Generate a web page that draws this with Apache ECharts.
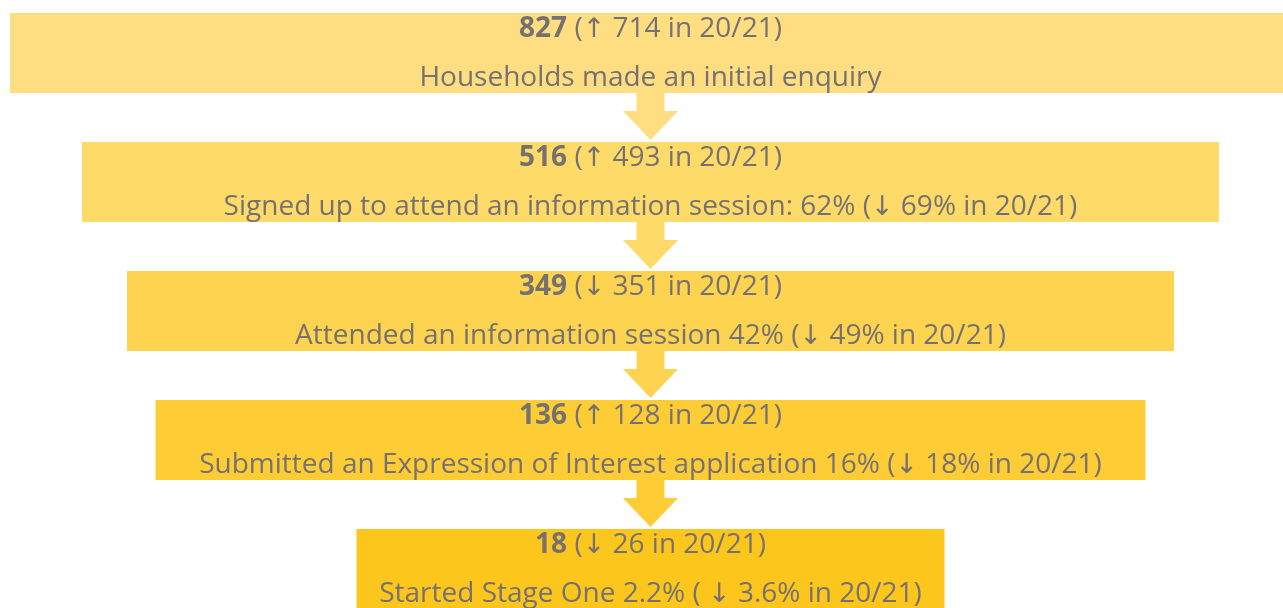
<!DOCTYPE html>
<html>
<head>
<meta charset="utf-8">
<script src="https://cdn.jsdelivr.net/npm/echarts@6/dist/echarts.min.js"></script>
<style>
  html, body { margin: 0; padding: 0; background: #fff; }
  #chart { width: 1283px; height: 608px; }
</style>
</head>
<body>
<div id="chart"></div>
<script>
// funnel stages (20/21 values in brackets)
var stageNames = [
  "Households made an initial enquiry",
  "Signed up to attend an information session:",
  "Attended an information session",
  "Submitted an Expression of Interest application",
  "Started Stage One"
];
var counts = [827, 516, 349, 136, 18];
var prevCounts = [714, 493, 351, 128, 26];
var rates = [null, "62%", "42%", "16%", "2.2%"];
var prevRates = [null, "69%", "49%", "18%", "3.6%"];
var countTrend = ["↑", "↑", "↓", "↑", "↓"];
var rateTrend = [null, "↓", "↓", "↓", "↓"];
var prevYear = "20/21";

// box widths in px (axis units)
var boxWidths = [1281, 1137, 1047, 990, 588];
var colors = ["#FFDE81", "#FEDA69", "#FDD34F", "#FECD35", "#FDC61D"];
var textColor = "#767171";
var fontFamily = "'Open Sans', 'Noto Sans', sans-serif";
var fontSize = 28;

var myChart = echarts.init(document.getElementById("chart"));

var seriesData = [];
for (var i = 0; i < counts.length; i++) {
  seriesData.push([650.5, i, boxWidths[i]]);
}

var rich = {
  b: { fontWeight: "bold", fontSize: fontSize, fontFamily: fontFamily, fill: textColor },
  a: { fontSize: 27, fontFamily: "'DejaVu Sans'", fill: textColor }
};

function line2(i) {
  if (rates[i] == null) return stageNames[i];
  var sep = i === stageNames.length - 1 ? " ( " : " (";
  return stageNames[i] + " " + rates[i] + sep + "{a|" + rateTrend[i] + "} " + prevRates[i] + " in " + prevYear + ")";
}

function renderItem(params, api) {
  var i = api.value(1);
  var c = api.coord([api.value(0), i]);
  var step = api.size([0, 1])[1];
  var w = api.size([api.value(2), 0])[0];
  var h = step * 0.62;
  var top = c[1] - h / 2;
  var children = [];

  if (i > 0) {
    var y0 = c[1] - step + h / 2;
    var tip = top - 2;
    var headTop = tip - 29;
    var sw = 14, hw = 27.5;
    children.push({
      type: "polygon",
      shape: {
        points: [
          [c[0] - sw, y0], [c[0] + sw, y0], [c[0] + sw, headTop],
          [c[0] + hw, headTop], [c[0], tip], [c[0] - hw, headTop],
          [c[0] - sw, headTop]
        ]
      },
      style: { fill: colors[i - 1] }
    });
  }

  children.push({
    type: "rect",
    shape: { x: c[0] - w / 2, y: top, width: w, height: h },
    style: { fill: colors[i] }
  });

  children.push({
    type: "text",
    x: c[0],
    y: top + 16.5,
    style: {
      text: "{b|" + counts[i] + "} ({a|" + countTrend[i] + "} " + prevCounts[i] + " in " + prevYear + ")",
      align: "center",
      verticalAlign: "middle",
      fill: textColor,
      font: fontSize + "px " + fontFamily,
      rich: rich
    }
  });

  children.push({
    type: "text",
    x: c[0],
    y: top + 65.5,
    style: {
      text: line2(i),
      align: "center",
      verticalAlign: "middle",
      fill: textColor,
      font: fontSize + "px " + fontFamily,
      rich: rich
    }
  });

  return { type: "group", children: children };
}

var option = {
  animation: false,
  grid: { left: 0, right: 0, top: 0, bottom: 0 },
  xAxis: { type: "value", min: 0, max: 1283, show: false },
  // one stage per 129px, first box centred at y=53
  yAxis: { type: "value", inverse: true, min: -53 / 129, max: 555 / 129, show: false },
  series: [
    {
      type: "custom",
      renderItem: renderItem,
      data: seriesData,
      clip: false
    }
  ]
};

myChart.setOption(option);
</script>
</body>
</html>
